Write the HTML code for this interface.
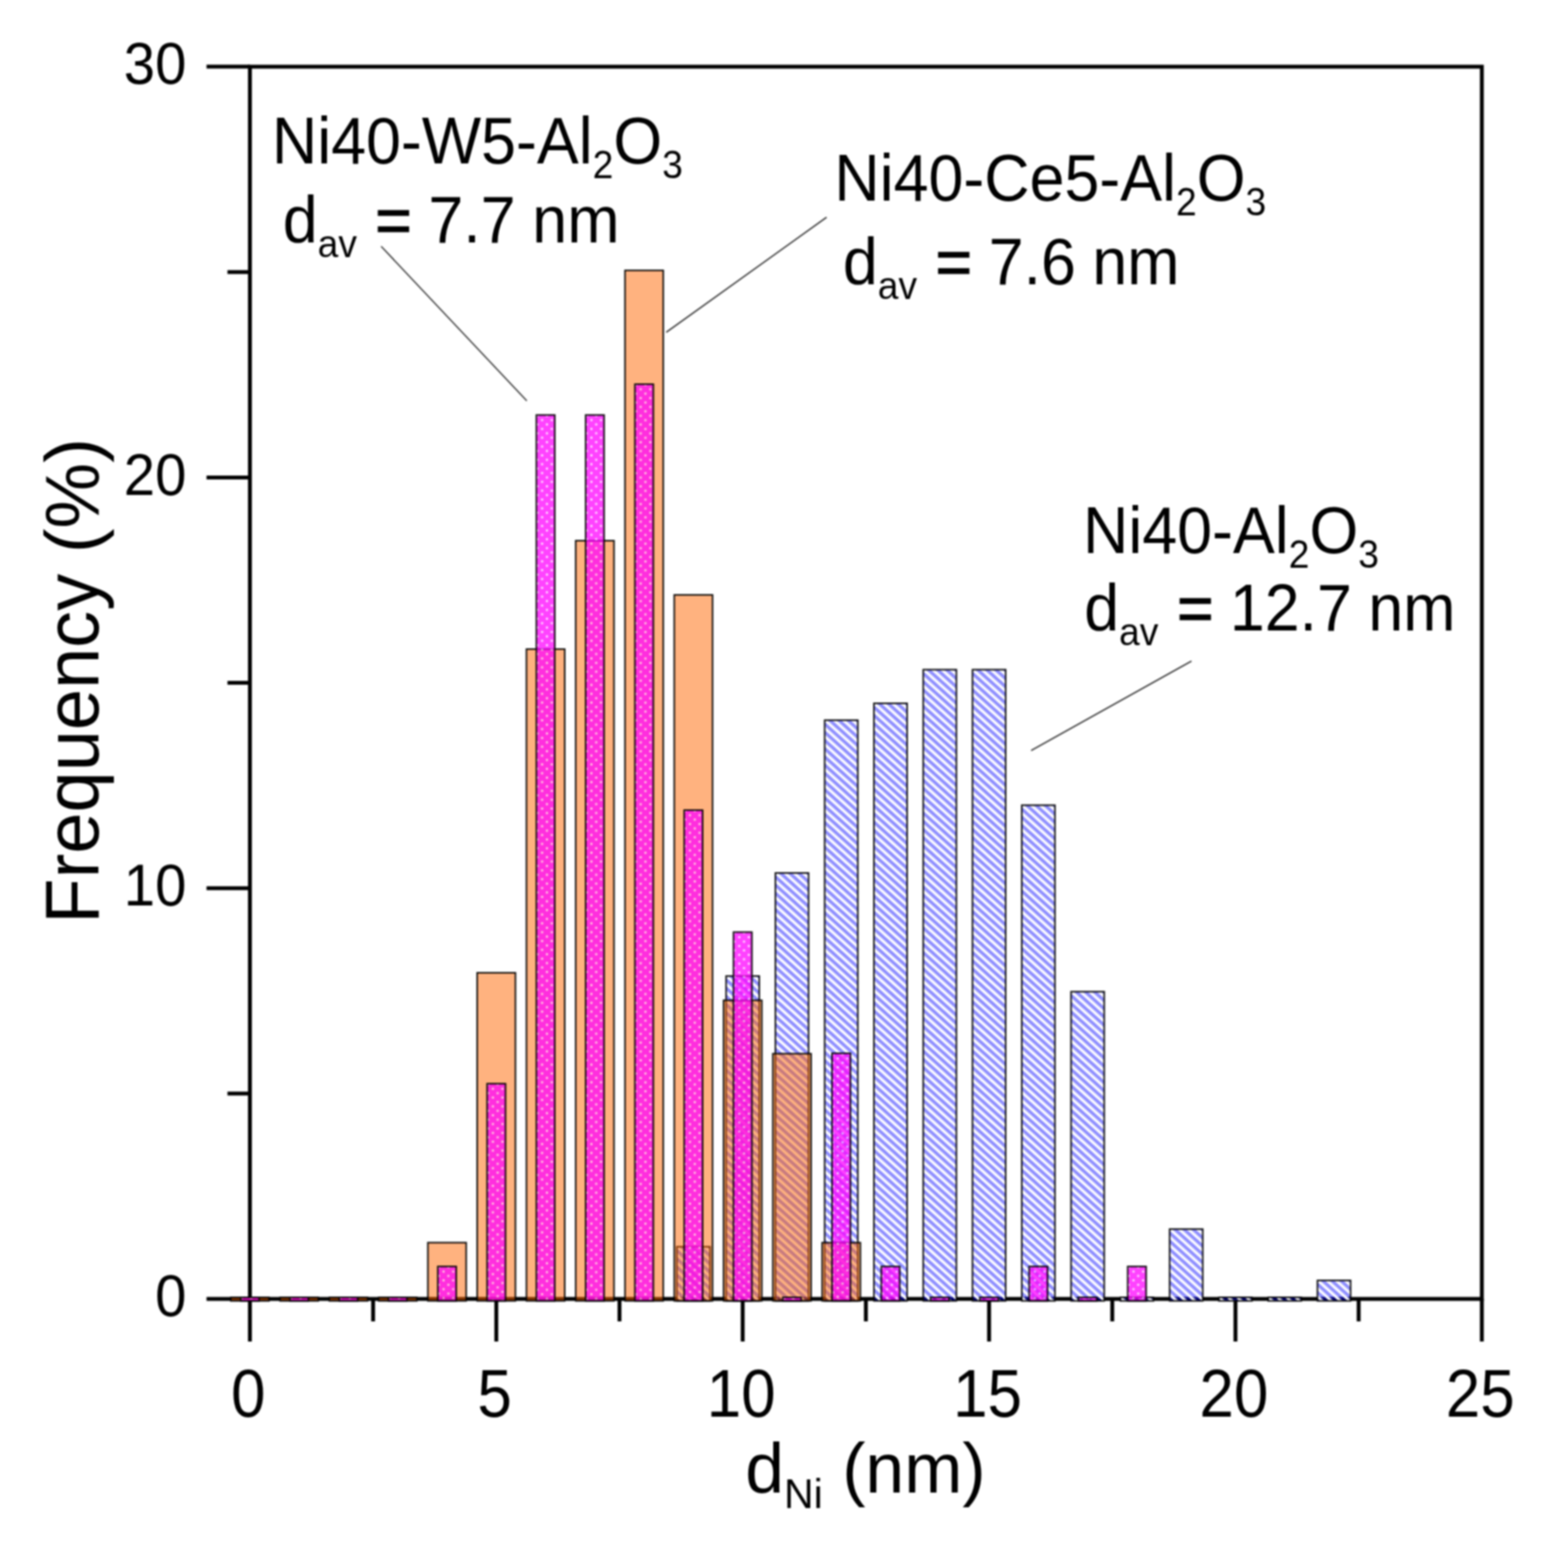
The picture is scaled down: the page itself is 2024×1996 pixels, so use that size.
<!DOCTYPE html>
<html lang="en">
<head>
<meta charset="utf-8">
<title>Ni particle size distribution</title>
<style>
html,body{margin:0;padding:0;background:#fff;}
body{width:2024px;height:1996px;overflow:hidden;}
svg{display:block;filter:blur(0.9px);}
text{font-family:"Liberation Sans",sans-serif;fill:#000;}
.ax{stroke:#000;stroke-width:5.0;fill:none;stroke-linecap:butt;}
.bd{stroke:#000;stroke-opacity:.95;stroke-width:2;}
.ln{stroke:#2a2a2a;stroke-width:1.6;fill:none;}
</style>
</head>
<body>
<svg width="2024" height="1996" viewBox="0 0 2024 1996">
<defs>
<pattern id="hb" patternUnits="userSpaceOnUse" width="7.877" height="7.877" patternTransform="translate(0 2) rotate(42)">
<rect x="0" y="4.254" width="7.877" height="3.623" fill="#fff"/>
<rect x="0" y="0" width="7.877" height="4.254" fill="#00f" fill-opacity="0.45"/>
</pattern>
<pattern id="dm" patternUnits="userSpaceOnUse" width="12.35" height="11.4" patternTransform="translate(1.3 0.9)">
<rect x="0" y="0" width="12.35" height="11.4" fill="#f0f"/>
<circle cx="0" cy="0" r="1.4" fill="#fff"/>
<circle cx="12.35" cy="0" r="1.4" fill="#fff"/>
<circle cx="0" cy="11.4" r="1.4" fill="#fff"/>
<circle cx="12.35" cy="11.4" r="1.4" fill="#fff"/>
<circle cx="6.175" cy="5.7" r="1.4" fill="#fff"/>
</pattern>
</defs>
<rect width="2024" height="1996" fill="#fff"/>

<g class="ax">
<rect x="322.6" y="86.10" width="1590.20" height="1590.90"/>
<line x1="266.6" y1="1677.00" x2="322.6" y2="1677.00"/>
<line x1="293.6" y1="1411.85" x2="322.6" y2="1411.85"/>
<line x1="266.6" y1="1146.70" x2="322.6" y2="1146.70"/>
<line x1="293.6" y1="881.55" x2="322.6" y2="881.55"/>
<line x1="266.6" y1="616.40" x2="322.6" y2="616.40"/>
<line x1="293.6" y1="351.25" x2="322.6" y2="351.25"/>
<line x1="266.6" y1="86.10" x2="322.6" y2="86.10"/>
<line x1="322.60" y1="1677.0" x2="322.60" y2="1732.0"/>
<line x1="481.62" y1="1677.0" x2="481.62" y2="1706.0"/>
<line x1="640.64" y1="1677.0" x2="640.64" y2="1732.0"/>
<line x1="799.66" y1="1677.0" x2="799.66" y2="1706.0"/>
<line x1="958.68" y1="1677.0" x2="958.68" y2="1732.0"/>
<line x1="1117.70" y1="1677.0" x2="1117.70" y2="1706.0"/>
<line x1="1276.72" y1="1677.0" x2="1276.72" y2="1732.0"/>
<line x1="1435.74" y1="1677.0" x2="1435.74" y2="1706.0"/>
<line x1="1594.76" y1="1677.0" x2="1594.76" y2="1732.0"/>
<line x1="1753.78" y1="1677.0" x2="1753.78" y2="1706.0"/>
<line x1="1912.80" y1="1677.0" x2="1912.80" y2="1732.0"/>
</g>
<g class="bd">
<rect transform="translate(873.67 1609.65)" width="42.80" height="69.85" fill="url(#hb)" />
<rect transform="translate(937.28 1260.18)" width="42.80" height="419.32" fill="url(#hb)" />
<rect transform="translate(1000.89 1127.08)" width="42.80" height="552.42" fill="url(#hb)" />
<rect transform="translate(1064.50 929.81)" width="42.80" height="749.69" fill="url(#hb)" />
<rect transform="translate(1128.10 908.06)" width="42.80" height="771.44" fill="url(#hb)" />
<rect transform="translate(1191.71 864.58)" width="42.80" height="814.92" fill="url(#hb)" />
<rect transform="translate(1255.32 864.58)" width="42.80" height="814.92" fill="url(#hb)" />
<rect transform="translate(1318.93 1039.58)" width="42.80" height="639.92" fill="url(#hb)" />
<rect transform="translate(1382.54 1280.34)" width="42.80" height="399.16" fill="url(#hb)" />
<rect transform="translate(1446.14 1675.00)" width="42.80" height="4.50" fill="url(#hb)" />
<rect transform="translate(1509.75 1586.85)" width="42.80" height="92.65" fill="url(#hb)" />
<rect transform="translate(1573.36 1675.00)" width="42.80" height="4.50" fill="url(#hb)" />
<rect transform="translate(1636.97 1675.00)" width="42.80" height="4.50" fill="url(#hb)" />
<rect transform="translate(1700.58 1653.14)" width="42.80" height="26.36" fill="url(#hb)" />
</g>
<g class="bd" fill-opacity="0.5">
<rect transform="translate(297.90 1675.00)" width="49.40" height="4.50" fill="#ff6600" />
<rect transform="translate(361.51 1675.00)" width="49.40" height="4.50" fill="#ff6600" />
<rect transform="translate(425.12 1675.00)" width="49.40" height="4.50" fill="#ff6600" />
<rect transform="translate(488.72 1675.00)" width="49.40" height="4.50" fill="#ff6600" />
<rect transform="translate(552.33 1604.35)" width="49.40" height="75.15" fill="#ff6600" />
<rect transform="translate(615.94 1255.94)" width="49.40" height="423.56" fill="#ff6600" />
<rect transform="translate(679.55 838.07)" width="49.40" height="841.43" fill="#ff6600" />
<rect transform="translate(743.16 698.07)" width="49.40" height="981.43" fill="#ff6600" />
<rect transform="translate(806.76 349.13)" width="49.40" height="1330.37" fill="#ff6600" />
<rect transform="translate(870.37 768.07)" width="49.40" height="911.43" fill="#ff6600" />
<rect transform="translate(933.98 1291.47)" width="49.40" height="388.03" fill="#ff6600" />
<rect transform="translate(997.59 1360.41)" width="49.40" height="319.09" fill="#ff6600" />
<rect transform="translate(1061.20 1604.35)" width="49.40" height="75.15" fill="#ff6600" />
</g>
<g class="bd" fill-opacity="0.74">
<rect transform="translate(310.70 1675.00)" width="23.80" height="4.50" fill="url(#dm)" />
<rect transform="translate(374.31 1675.00)" width="23.80" height="4.50" fill="url(#dm)" />
<rect transform="translate(437.92 1675.00)" width="23.80" height="4.50" fill="url(#dm)" />
<rect transform="translate(501.52 1675.00)" width="23.80" height="4.50" fill="url(#dm)" />
<rect transform="translate(565.13 1635.11)" width="23.80" height="44.39" fill="url(#dm)" />
<rect transform="translate(628.74 1399.12)" width="23.80" height="280.38" fill="url(#dm)" />
<rect transform="translate(692.35 535.79)" width="23.80" height="1143.71" fill="url(#dm)" />
<rect transform="translate(755.96 535.79)" width="23.80" height="1143.71" fill="url(#dm)" />
<rect transform="translate(819.56 496.02)" width="23.80" height="1183.48" fill="url(#dm)" />
<rect transform="translate(883.17 1045.94)" width="23.80" height="633.56" fill="url(#dm)" />
<rect transform="translate(946.78 1203.44)" width="23.80" height="476.06" fill="url(#dm)" />
<rect transform="translate(1010.39 1675.00)" width="23.80" height="4.50" fill="url(#dm)" />
<rect transform="translate(1074.00 1359.88)" width="23.80" height="319.62" fill="url(#dm)" />
<rect transform="translate(1137.60 1635.11)" width="23.80" height="44.39" fill="url(#dm)" />
<rect transform="translate(1201.21 1675.00)" width="23.80" height="4.50" fill="url(#dm)" />
<rect transform="translate(1264.82 1675.00)" width="23.80" height="4.50" fill="url(#dm)" />
<rect transform="translate(1328.43 1635.11)" width="23.80" height="44.39" fill="url(#dm)" />
<rect transform="translate(1392.04 1675.00)" width="23.80" height="4.50" fill="url(#dm)" />
<rect transform="translate(1455.64 1635.11)" width="23.80" height="44.39" fill="url(#dm)" />
</g>
<g class="ln">
<line x1="492" y1="318" x2="680" y2="517.5"/>
<line x1="860" y1="429" x2="1067" y2="280.5"/>
<line x1="1331" y1="969" x2="1538" y2="853.5"/>
</g>
<g font-size="72.5" text-anchor="end">
<text transform="translate(240.5 1699.3) scale(1 1.04)">0</text>
<text transform="translate(240.5 1169.0) scale(1 1.04)">10</text>
<text transform="translate(240.5 638.7) scale(1 1.04)">20</text>
<text transform="translate(240.5 108.4) scale(1 1.04)">30</text>
</g>
<g font-size="80" text-anchor="middle">
<text transform="translate(320.6 1828.8) scale(1 1.085)">0</text>
<text transform="translate(638.6 1828.8) scale(1 1.085)">5</text>
<text transform="translate(956.7 1828.8) scale(1 1.085)">10</text>
<text transform="translate(1274.7 1828.8) scale(1 1.085)">15</text>
<text transform="translate(1592.8 1828.8) scale(1 1.085)">20</text>
<text transform="translate(1910.8 1828.8) scale(1 1.085)">25</text>
</g>
<text font-size="95.6" text-anchor="middle" transform="translate(126.5 879) rotate(-90) scale(1 1.03)">Frequency (%)</text>
<text font-size="90" x="962" y="1927">d<tspan font-size="53" dy="20">Ni</tspan><tspan dy="-20"> (nm)</tspan></text>
<text font-size="81" transform="translate(351 210.5) scale(1 1.05)">Ni40-W5-Al<tspan font-size="48" dy="18.1">2</tspan><tspan dy="-18.1">O</tspan><tspan font-size="48" dy="18.1">3</tspan></text>
<text font-size="81" transform="translate(365 312.5) scale(1 1.05)" word-spacing="-1">d<tspan font-size="48" dy="18.1">av</tspan><tspan dy="-18.1" dx="2"> <tspan stroke="#000" stroke-width="1.2">=</tspan> 7.7 nm</tspan></text>
<text font-size="81" transform="translate(1077 259) scale(1 1.05)">Ni40-Ce5-Al<tspan font-size="48" dy="18.1">2</tspan><tspan dy="-18.1">O</tspan><tspan font-size="48" dy="18.1">3</tspan></text>
<text font-size="81" transform="translate(1088 367) scale(1 1.05)" word-spacing="-1.2">d<tspan font-size="48" dy="18.1">av</tspan><tspan dy="-18.1" dx="2.5"> <tspan stroke="#000" stroke-width="1.2">=</tspan> 7.6 nm</tspan></text>
<text font-size="81" transform="translate(1398 714) scale(1 1.05)">Ni40-Al<tspan font-size="48" dy="18.1">2</tspan><tspan dy="-18.1">O</tspan><tspan font-size="48" dy="18.1">3</tspan></text>
<text font-size="81" transform="translate(1399.5 814) scale(1 1.05)" word-spacing="-1.5">d<tspan font-size="48" dy="18.1">av</tspan><tspan dy="-18.1" dx="3"> <tspan stroke="#000" stroke-width="1.2">=</tspan> 12.7 nm</tspan></text>
</svg>
</body>
</html>
